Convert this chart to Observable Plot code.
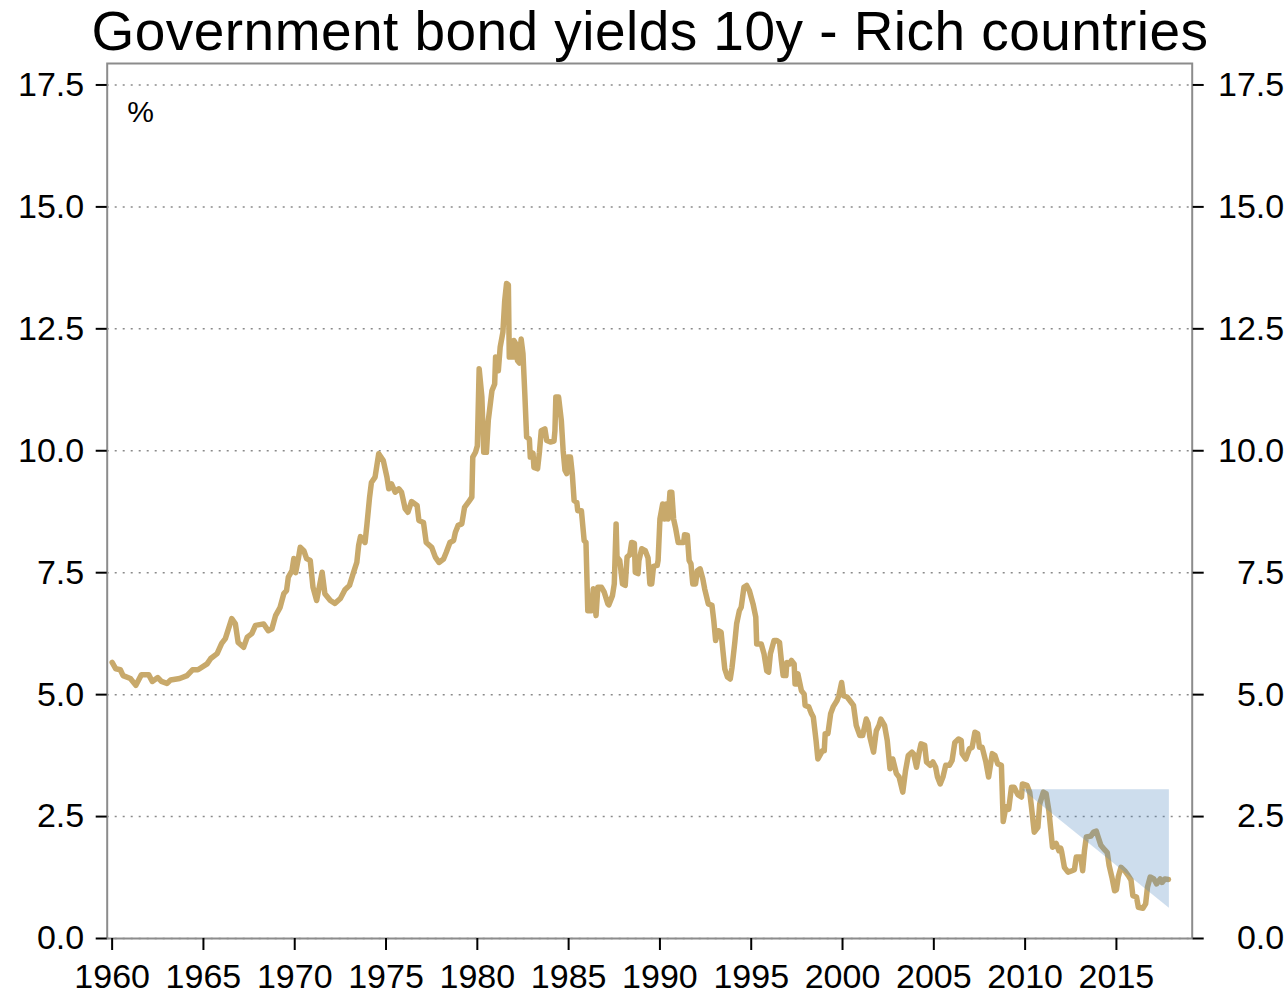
<!DOCTYPE html>
<html>
<head>
<meta charset="utf-8">
<script src="https://cdn.jsdelivr.net/npm/d3@7"></script>
<script src="https://cdn.jsdelivr.net/npm/@observablehq/plot@0.6"></script>
<style>
  html, body { margin: 0; padding: 0; background: white; }
  #title {
    width: 1288px; height: 58px; line-height: 62px; font-size: 55px; letter-spacing: 0.45px;
    font-family: "Liberation Sans", Arial, sans-serif; text-align: center; overflow: visible;
    padding-left: 12px; box-sizing: border-box; color: black; white-space: nowrap;
  }
  #chart svg { display: block; }
</style>
</head>
<body>
<div id="title">Government bond yields 10y - Rich countries</div>
<div id="chart"></div>
<script>
const years = [
  1960.0,1960.2,1960.45,1960.6,1961.0,1961.3,1961.6,1962.0,1962.2,1962.5,1962.7,1963.0,1963.2,1963.7,1964.1,1964.4,1964.7,
  1965.2,1965.4,1965.75,1966.0,1966.2,1966.55,1966.75,1966.9,1967.2,1967.4,1967.65,1967.85,1968.3,1968.55,1968.75,1968.95,
  1969.2,1969.4,1969.55,1969.65,1969.85,1969.95,1970.05,1970.2,1970.3,1970.5,1970.65,1970.85,1971.0,1971.2,1971.5,1971.65,
  1971.95,1972.2,1972.5,1972.75,1973.0,1973.2,1973.4,1973.5,1973.6,1973.85,1973.95,1974.1,1974.2,1974.4,1974.6,1974.85,
  1975.05,1975.15,1975.3,1975.5,1975.7,1975.85,1976.05,1976.2,1976.4,1976.7,1976.8,1977.05,1977.2,1977.5,1977.7,1977.9,
  1978.15,1978.3,1978.5,1978.7,1978.8,1978.95,1979.15,1979.3,1979.5,1979.7,1979.75,1979.9,1980.0,1980.1,1980.25,1980.35,
  1980.5,1980.6,1980.8,1980.95,1981.0,1981.15,1981.25,1981.4,1981.5,1981.6,1981.7,1981.75,1981.95,1982.0,1982.1,1982.2,
  1982.3,1982.4,1982.5,1982.6,1982.7,1982.85,1982.9,1983.05,1983.1,1983.3,1983.4,1983.5,1983.7,1983.8,1984.0,1984.2,
  1984.25,1984.3,1984.45,1984.6,1984.7,1984.8,1984.9,1984.95,1985.1,1985.2,1985.3,1985.45,1985.5,1985.7,1985.85,1985.95,
  1986.05,1986.25,1986.35,1986.45,1986.5,1986.6,1986.8,1986.95,1987.15,1987.2,1987.4,1987.5,1987.6,1987.65,1987.8,1987.95,
  1988.1,1988.2,1988.35,1988.45,1988.6,1988.65,1988.8,1988.85,1989.0,1989.2,1989.35,1989.45,1989.55,1989.65,1989.85,1989.9,
  1990.0,1990.15,1990.25,1990.35,1990.45,1990.55,1990.65,1990.75,1990.85,1991.0,1991.3,1991.35,1991.5,1991.6,1991.7,1991.8,
  1991.95,1992.05,1992.2,1992.35,1992.45,1992.65,1992.85,1992.95,1993.05,1993.2,1993.35,1993.45,1993.55,1993.7,1993.85,1993.95,
  1994.1,1994.2,1994.35,1994.45,1994.6,1994.75,1994.9,1995.1,1995.25,1995.3,1995.55,1995.7,1995.85,1995.95,1996.05,1996.25,
  1996.4,1996.55,1996.65,1996.75,1996.9,1996.95,1997.1,1997.2,1997.35,1997.4,1997.5,1997.55,1997.75,1997.9,1997.95,1998.15,
  1998.3,1998.4,1998.55,1998.65,1998.75,1998.9,1999.0,1999.05,1999.2,1999.35,1999.5,1999.7,1999.8,1999.95,2000.05,2000.25,
  2000.4,2000.6,2000.75,2000.95,2001.1,2001.3,2001.4,2001.5,2001.7,2001.85,2002.0,2002.1,2002.3,2002.45,2002.6,2002.75,
  2002.95,2003.1,2003.3,2003.45,2003.6,2003.8,2003.9,2004.05,2004.2,2004.3,2004.5,2004.6,2004.8,2004.95,2005.1,2005.2,
  2005.35,2005.5,2005.65,2005.85,2006.0,2006.15,2006.35,2006.5,2006.55,2006.75,2006.95,2007.1,2007.25,2007.4,2007.5,2007.65,
  2007.85,2008.0,2008.2,2008.35,2008.5,2008.7,2008.8,2008.95,2009.1,2009.25,2009.4,2009.6,2009.8,2009.85,2010.1,2010.25,
  2010.35,2010.5,2010.7,2010.8,2011.0,2011.15,2011.3,2011.5,2011.7,2011.85,2011.95,2012.0,2012.15,2012.35,2012.5,2012.7,
  2012.8,2013.05,2013.15,2013.25,2013.35,2013.6,2013.75,2013.9,2014.0,2014.15,2014.35,2014.5,2014.6,2014.75,2014.9,2015.0,
  2015.1,2015.25,2015.45,2015.65,2015.8,2015.9,2016.1,2016.2,2016.45,2016.6,2016.7,2016.85,2017.05,2017.2,2017.4,2017.5,
  2017.65,2017.85
];
const yields = [
  5.66,5.53,5.51,5.39,5.33,5.19,5.41,5.41,5.27,5.35,5.27,5.23,5.30,5.33,5.39,5.51,5.51,
  5.63,5.74,5.84,6.05,6.15,6.56,6.45,6.07,5.97,6.18,6.25,6.42,6.45,6.31,6.35,6.62,
  6.79,7.07,7.13,7.41,7.54,7.79,7.50,7.79,8.02,7.95,7.79,7.75,7.20,6.93,7.51,7.07,
  6.93,6.87,6.97,7.15,7.24,7.48,7.71,8.06,8.24,8.12,8.47,9.05,9.35,9.46,9.94,9.80,
  9.46,9.22,9.32,9.15,9.22,9.15,8.81,8.74,8.96,8.88,8.57,8.53,8.12,8.02,7.82,7.71,
  7.78,7.92,8.12,8.16,8.33,8.47,8.50,8.84,8.94,9.05,9.87,9.97,10.10,11.68,11.10,9.97,
  9.97,10.62,11.23,11.37,11.92,11.64,12.12,12.43,13.08,13.43,13.40,11.92,11.92,12.26,12.20,11.85,
  11.80,12.29,11.99,11.17,10.28,10.24,9.87,9.95,9.66,9.63,9.97,10.41,10.45,10.21,10.18,10.20,
  10.41,11.10,11.10,10.62,10.00,9.60,9.53,9.87,9.87,9.53,8.98,8.94,8.77,8.77,8.16,8.12,
  6.72,6.72,7.17,6.85,6.62,7.20,7.20,7.10,6.86,6.84,7.03,7.27,8.50,7.82,7.75,7.27,
  7.24,7.82,7.87,8.12,8.10,7.51,7.48,7.75,7.99,7.95,7.80,7.27,7.27,7.63,7.65,7.75,
  8.60,8.91,8.60,8.91,8.60,9.15,9.15,8.60,8.43,8.12,8.12,8.28,8.27,7.75,7.68,7.27,
  7.27,7.54,7.58,7.37,7.17,6.86,6.83,6.52,6.11,6.31,6.28,5.90,5.53,5.36,5.32,5.56,
  6.07,6.45,6.72,6.79,7.20,7.24,7.13,6.86,6.59,6.04,6.04,5.84,5.49,5.46,5.84,6.11,
  6.11,6.07,5.70,5.39,5.39,5.66,5.63,5.70,5.63,5.22,5.22,5.43,5.08,5.01,4.78,4.75,
  4.61,4.54,4.06,3.68,3.75,3.85,3.85,4.20,4.20,4.61,4.76,4.88,4.98,5.25,4.98,4.95,
  4.88,4.78,4.37,4.16,4.16,4.50,4.41,4.13,3.82,4.26,4.37,4.50,4.37,4.06,3.48,3.68,
  3.38,3.31,3.00,3.44,3.75,3.82,3.78,3.51,3.82,3.99,3.96,3.62,3.55,3.62,3.51,3.31,
  3.17,3.31,3.55,3.55,3.65,4.02,4.09,4.06,3.79,3.68,3.89,3.92,4.23,4.20,3.92,3.92,
  3.62,3.31,3.79,3.75,3.58,3.55,2.40,2.70,2.65,3.10,3.10,2.95,2.90,3.17,3.14,3.00,
  2.69,2.18,2.28,2.76,3.00,2.97,2.62,1.87,1.95,1.80,1.85,1.78,1.46,1.36,1.38,1.41,
  1.67,1.67,1.39,1.80,2.08,2.10,2.18,2.20,2.08,1.91,1.82,1.76,1.50,1.26,0.98,1.00,
  1.26,1.46,1.39,1.29,1.20,0.88,0.85,0.64,0.62,0.71,1.05,1.26,1.22,1.12,1.22,1.15,
  1.22,1.21
];
const shadeX = [2009.85, 2017.9];
const shadeLow = [3.05, 0.62];
const shadeHigh = [3.05, 3.05];
const xTicks = [1960, 1965, 1970, 1975, 1980, 1985, 1990, 1995, 2000, 2005, 2010, 2015];
const yTicks = [0, 2.5, 5, 7.5, 10, 12.5, 15, 17.5];

const series = years.map((x, i) => ({x, y: yields[i]}));
const shade = shadeX.map((x, i) => ({x, y1: shadeLow[i], y2: shadeHigh[i]}));

const chart = Plot.plot({
  width: 1288,
  height: 938,
  marginTop: 5,
  marginBottom: 58,
  marginLeft: 106.7,
  marginRight: 96.3,
  style: {fontFamily: "'Liberation Sans', Arial, sans-serif", fontSize: "34px", color: "black", background: "white"},
  x: {domain: [1959.73, 2019.15]},
  y: {domain: [0, 17.94]},
  marks: [
    Plot.gridY(yTicks, {stroke: "#8a8a8a", strokeOpacity: 1, strokeDasharray: "2,6", strokeWidth: 1.5}),
    Plot.line(series, {x: "x", y: "y", stroke: "#c8a96b", strokeWidth: 5.5, strokeLinejoin: "round"}),
    Plot.areaY(shade, {x: "x", y1: "y1", y2: "y2", fill: "#4a86c0", fillOpacity: 0.28}),
    Plot.frame({stroke: "#8c8c8c", strokeWidth: 2}),
    Plot.axisY(yTicks, {anchor: "left", tickFormat: d3.format(".1f"), tickSize: 11, tickPadding: 12, label: null, strokeWidth: 2}),
    Plot.axisY(yTicks, {anchor: "right", textAnchor: "end", tickFormat: d3.format(".1f"), tickSize: 11, tickPadding: 81, label: null, strokeWidth: 2}),
    Plot.axisX(xTicks, {anchor: "bottom", tickFormat: "d", tickSize: 12, tickPadding: 13, label: null, strokeWidth: 2}),
    Plot.text(["%"], {frameAnchor: "top-left", dx: 20, dy: 37, textAnchor: "start", lineAnchor: "top", fontSize: 30})
  ]
});
document.getElementById("chart").appendChild(chart);
</script>
</body>
</html>
